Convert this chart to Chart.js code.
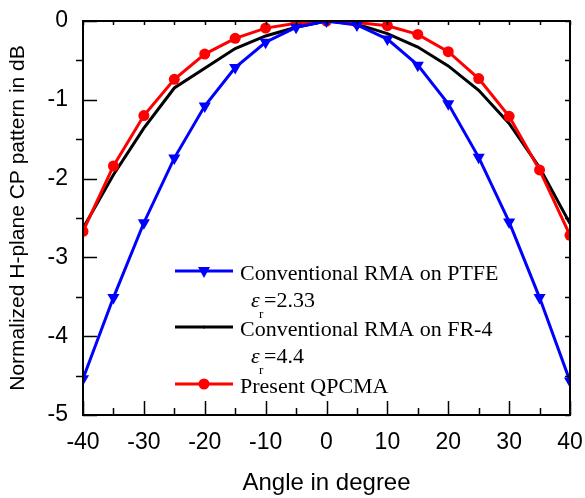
<!DOCTYPE html>
<html>
<head>
<meta charset="utf-8">
<script src="https://cdn.jsdelivr.net/npm/chart.js@4"></script>
<style>
  html, body { margin: 0; padding: 0; background: #fff; }
  #wrap { width: 585px; height: 498px; }
</style>
</head>
<body>
<div id="wrap"><canvas id="c" width="585" height="498"></canvas></div>
<script>
// Angle samples (degrees) and normalized H-plane CP pattern (dB)
const angles = [-40, -35, -30, -25, -20, -15, -10, -5, 0, 5, 10, 15, 20, 25, 30, 35, 40];
const ptfe   = [-4.54, -3.51, -2.56, -1.74, -1.08, -0.59, -0.27, -0.08, 0, -0.05, -0.23, -0.56, -1.05, -1.73, -2.55, -3.51, -4.57];
const fr4    = [-2.63, -1.95, -1.36, -0.85, -0.60, -0.35, -0.19, -0.08, 0, -0.04, -0.16, -0.33, -0.57, -0.88, -1.30, -1.86, -2.57];
const qpcma  = [-2.67, -1.84, -1.20, -0.74, -0.42, -0.22, -0.09, -0.03, 0, -0.02, -0.06, -0.17, -0.39, -0.73, -1.21, -1.89, -2.72];

const seriesLabels = ['Conventional RMA on PTFE', 'Conventional RMA on FR-4', 'Present QPCMA'];
const permittivity = ['2.33', '4.4', null];
const xTicks = [-40, -30, -20, -10, 0, 10, 20, 30, 40];
const yTicks = [-5, -4, -3, -2, -1, 0];

const pts = arr => angles.map((a, i) => ({ x: a, y: arr[i] }));

// Boxed frame with inward / outward tick marks on all four sides
const framePlugin = {
  id: 'frame',
  afterDraw(chart) {
    const { ctx, chartArea: a, scales: { x, y } } = chart;
    ctx.save();
    ctx.strokeStyle = '#000';
    ctx.lineWidth = 2;
    ctx.strokeRect(a.left, a.top, a.right - a.left, a.bottom - a.top);
    ctx.lineWidth = 1.5;
    ctx.beginPath();
    for (let v = -40; v <= 40; v += 5) {
      const px = Math.round(x.getPixelForValue(v)) + 0.5;
      const major = v % 10 === 0;
      ctx.moveTo(px, a.bottom);
      ctx.lineTo(px, a.bottom - (major ? 14 : 7));
      ctx.moveTo(px, a.top);
      ctx.lineTo(px, a.top + 4);
    }
    for (let v = -5; v <= 0.001; v += 0.5) {
      const py = Math.round(y.getPixelForValue(v)) + 0.5;
      const major = Math.abs(v - Math.round(v)) < 1e-6;
      if (major) {
        ctx.moveTo(a.left, py);
        ctx.lineTo(a.left + 14, py);
      } else {
        ctx.moveTo(a.left, py);
        ctx.lineTo(a.left - 7, py);
      }
      ctx.moveTo(a.right, py);
      ctx.lineTo(a.right - 5, py);
    }
    ctx.stroke();
    ctx.restore();
  }
};

// Legend drawn inside the plot, with permittivity sub-lines
const legendPlugin = {
  id: 'innerLegend',
  afterDraw(chart) {
    const { ctx } = chart;
    const rows = [271, 327, 384];
    const x0 = 175, x1 = 233, mx = 204, tx = 240;
    const serif = '"Liberation Serif", "Times New Roman", serif';
    ctx.save();
    chart.data.datasets.forEach((ds, i) => {
      const yy = rows[i];
      ctx.strokeStyle = ds.borderColor;
      ctx.lineWidth = 3;
      ctx.beginPath();
      ctx.moveTo(x0, yy);
      ctx.lineTo(x1, yy);
      ctx.stroke();
      ctx.fillStyle = ds.borderColor;
      if (ds.pointStyle === 'triangle') {
        ctx.beginPath();
        ctx.moveTo(mx - 6, yy - 4);
        ctx.lineTo(mx + 6, yy - 4);
        ctx.lineTo(mx, yy + 7);
        ctx.closePath();
        ctx.fill();
      } else if (ds.pointStyle === 'circle' && ds.pointRadius > 0) {
        ctx.beginPath();
        ctx.arc(mx, yy, 5.5, 0, Math.PI * 2);
        ctx.fill();
      } else {
        ctx.beginPath();
        ctx.arc(mx, yy, 1.5, 0, Math.PI * 2);
        ctx.fill();
      }
      ctx.fillStyle = '#000';
      ctx.textBaseline = 'alphabetic';
      ctx.textAlign = 'left';
      ctx.font = '22px ' + serif;
      ctx.fillText(seriesLabels[i], tx, yy + 9);
      if (permittivity[i]) {
        const by = yy + 36;
        ctx.font = 'italic 22px ' + serif;
        ctx.fillText('\u03b5', 251, by);
        ctx.font = '13px ' + serif;
        ctx.fillText('r', 259, by + 11);
        ctx.font = '22px ' + serif;
        ctx.fillText('=' + permittivity[i], 264, by);
      }
    });
    ctx.restore();
  }
};

new Chart(document.getElementById('c'), {
  type: 'line',
  data: {
    datasets: [
      {
        label: seriesLabels[0], data: pts(ptfe), order: 0,
        borderColor: '#0000ff', backgroundColor: '#0000ff', borderWidth: 3,
        pointStyle: 'triangle', rotation: 180, pointRadius: 7, pointBorderWidth: 0,
        clip: 0
      },
      {
        label: seriesLabels[1], data: pts(fr4), order: 2,
        borderColor: '#000000', backgroundColor: '#000000', borderWidth: 3,
        pointStyle: 'line', pointRadius: 0,
        clip: 0
      },
      {
        label: seriesLabels[2], data: pts(qpcma), order: 1,
        borderColor: '#ff0000', backgroundColor: '#ff0000', borderWidth: 3,
        pointStyle: 'circle', pointRadius: 5.5, pointBorderWidth: 0,
        clip: 0
      }
    ]
  },
  options: {
    responsive: false,
    animation: false,
    devicePixelRatio: 1,
    layout: { padding: { top: 21, right: 15, left: 0, bottom: 0 } },
    plugins: { legend: { display: false }, tooltip: { enabled: false } },
    elements: { line: { tension: 0 } },
    scales: {
      x: {
        type: 'linear', min: -40, max: 40,
        afterFit(s) { s.height = 83; s.paddingLeft = 0; s.paddingRight = 0; },
        afterBuildTicks(s) { s.ticks = xTicks.map(v => ({ value: v })); },
        grid: { display: false, drawTicks: false },
        border: { display: false },
        ticks: { color: '#000', padding: 14, maxRotation: 0,
                 font: { family: '"Liberation Sans", Arial, sans-serif', size: 23 } },
        title: { display: true, text: 'Angle in degree', color: '#000',
                 padding: { top: 0, bottom: 0 },
                 font: { family: '"Liberation Sans", Arial, sans-serif', size: 24 } }
      },
      y: {
        type: 'linear', min: -5, max: 0,
        afterFit(s) { s.width = 83; s.paddingTop = 0; s.paddingBottom = 0; },
        afterBuildTicks(s) { s.ticks = yTicks.map(v => ({ value: v })); },
        grid: { display: false, drawTicks: false },
        border: { display: false },
        ticks: { color: '#000', padding: 15,
                 font: { family: '"Liberation Sans", Arial, sans-serif', size: 23 } },
        title: { display: true, text: 'Normalized H-plane CP pattern in dB', color: '#000',
                 padding: { top: 6, bottom: 0 },
                 font: { family: '"Liberation Sans", Arial, sans-serif', size: 21 } }
      }
    }
  },
  plugins: [framePlugin, legendPlugin]
});
</script>
</body>
</html>
